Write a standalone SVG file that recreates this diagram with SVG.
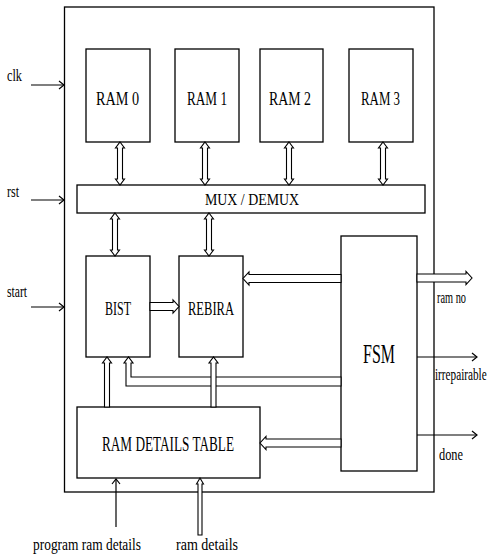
<svg xmlns="http://www.w3.org/2000/svg" width="491" height="556" viewBox="0 0 491 556">
<defs>
<style>
rect, .box { fill: #fff; stroke: #000; stroke-width: 1.3; }
.ln { fill: none; stroke: #000; stroke-width: 1.2; }
.dbl { fill: #fff; stroke: #000; stroke-width: 1.1; stroke-linejoin: miter; }
text { font-family: "Liberation Serif", "Times New Roman", serif; fill: #000; }
.lbl { font-size: 18px; }
.sm { font-size: 17px; }
</style>
<marker id="open" markerWidth="10" markerHeight="10" refX="7" refY="5" orient="auto" markerUnits="userSpaceOnUse">
<path d="M2,1 L7,5 L2,9" fill="none" stroke="#000" stroke-width="1.2"/>
</marker>
</defs>
<rect id="outer" x="64.5" y="7" width="369.5" height="485"/>
<g id="ram0"><rect x="86" y="49" width="64" height="93"/><text class="lbl" x="96" y="105" textLength="43" lengthAdjust="spacingAndGlyphs">RAM 0</text></g>
<g id="ram1"><rect x="175" y="49" width="64" height="93"/><text class="lbl" x="187" y="105" textLength="40" lengthAdjust="spacingAndGlyphs">RAM 1</text></g>
<g id="ram2"><rect x="260" y="49" width="63" height="93"/><text class="lbl" x="269" y="105" textLength="42" lengthAdjust="spacingAndGlyphs">RAM 2</text></g>
<g id="ram3"><rect x="349" y="49" width="64" height="93"/><text class="lbl" x="361" y="105" textLength="39" lengthAdjust="spacingAndGlyphs">RAM 3</text></g>
<g id="mux"><rect x="77" y="185" width="348" height="28"/><text class="sm" x="205" y="205" textLength="94" lengthAdjust="spacingAndGlyphs">MUX /  DEMUX</text></g>
<g id="bist"><rect x="86" y="256" width="64" height="101"/><text class="lbl" x="105" y="315" textLength="26" lengthAdjust="spacingAndGlyphs">BIST</text></g>
<g id="rebira"><rect x="179" y="256" width="64" height="101"/><text class="lbl" x="188" y="315" textLength="46" lengthAdjust="spacingAndGlyphs">REBIRA</text></g>
<g id="fsm"><rect x="341" y="236" width="76" height="235"/><text x="363" y="363" font-size="27" textLength="32" lengthAdjust="spacingAndGlyphs">FSM</text></g>
<g id="table"><rect x="77" y="407" width="183" height="71"/><text x="102" y="451" font-size="21" textLength="132" lengthAdjust="spacingAndGlyphs">RAM DETAILS TABLE</text></g>
<g id="connectors">
<line class="ln" x1="31" y1="85" x2="64" y2="85" marker-end="url(#open)"/>
<line class="ln" x1="31" y1="200" x2="64" y2="200" marker-end="url(#open)"/>
<line class="ln" x1="31" y1="307" x2="64" y2="307" marker-end="url(#open)"/>
<line class="ln" x1="417" y1="357" x2="477" y2="357" marker-end="url(#open)"/>
<line class="ln" x1="417" y1="435" x2="477" y2="435" marker-end="url(#open)"/>
<line class="ln" x1="116" y1="527" x2="116" y2="479" marker-end="url(#open)"/>
<polygon class="dbl" points="120,142 124.5,148 122.5,148 122.5,179 124.5,179 120,185 115.5,179 117.5,179 117.5,148 115.5,148"/>
<polygon class="dbl" points="205,142 209.5,148 207.5,148 207.5,179 209.5,179 205,185 200.5,179 202.5,179 202.5,148 200.5,148"/>
<polygon class="dbl" points="289,142 293.5,148 291.5,148 291.5,179 293.5,179 289,185 284.5,179 286.5,179 286.5,148 284.5,148"/>
<polygon class="dbl" points="383,142 387.5,148 385.5,148 385.5,179 387.5,179 383,185 378.5,179 380.5,179 380.5,148 378.5,148"/>
<polygon class="dbl" points="115,213 119.5,219 117.5,219 117.5,250 119.5,250 115,256 110.5,250 112.5,250 112.5,219 110.5,219"/>
<polygon class="dbl" points="209,213 213.5,219 211.5,219 211.5,250 213.5,250 209,256 204.5,250 206.5,250 206.5,219 204.5,219"/>
<polygon class="dbl" points="150,302.5 173,302.5 173,300 179,306.5 173,313 173,310.5 150,310.5"/>
<polygon class="dbl" points="341,274.5 249,274.5 249,272 243,278.5 249,285 249,282.5 341,282.5"/>
<polygon class="dbl" points="417,274 466,274 466,271.5 472,278 466,284.5 466,282 417,282"/>
<polygon class="dbl" points="341,439 266,439 266,436.5 260,443 266,449.5 266,447 341,447"/>
<polygon class="dbl" points="341,377 131,377 131,363 133,363 128.5,357 124,363 126,363 126,386 341,386"/>
<polygon class="dbl" points="104.5,407 104.5,363 102.5,363 107,357 111.5,363 109.5,363 109.5,407"/>
<polygon class="dbl" points="211,407 211,363 209,363 213.5,357 218,363 216,363 216,407"/>
<polygon class="dbl" points="198,535 198,484 196.5,484 200,478 203.5,484 202,484 202,535"/>
</g>
<g id="labels">
<text class="sm" x="7" y="81" textLength="15" lengthAdjust="spacingAndGlyphs">clk</text>
<text class="sm" x="7" y="197" textLength="12" lengthAdjust="spacingAndGlyphs">rst</text>
<text class="sm" x="7" y="297" textLength="20" lengthAdjust="spacingAndGlyphs">start</text>
<text class="sm" x="437" y="303" textLength="29" lengthAdjust="spacingAndGlyphs">ram no</text>
<text class="sm" transform="translate(435,380) scale(0.66,1)" x="0" y="0">irrepairable</text>
<text class="sm" x="439" y="460" textLength="24" lengthAdjust="spacingAndGlyphs">done</text>
<text class="sm" x="33" y="550" textLength="108" lengthAdjust="spacingAndGlyphs">program  ram  details</text>
<text class="sm" x="176" y="550" textLength="62" lengthAdjust="spacingAndGlyphs">ram  details</text>
</g>
</svg>
